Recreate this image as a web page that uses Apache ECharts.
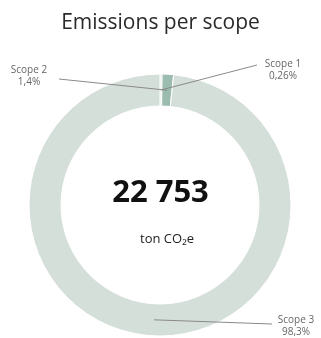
<!DOCTYPE html>
<html>
<head>
<meta charset="utf-8">
<script src="https://cdn.jsdelivr.net/npm/echarts@6/dist/echarts.min.js"></script>
<style>html,body{margin:0;padding:0;background:#fff}#c{width:321px;height:338px}</style>
</head>
<body>
<div id="c"></div>
<script>
const categories = ['Scope 1', 'Scope 2', 'Scope 3'];
const shares = [0.26, 1.4, 98.3];
const shareLabels = ['0,26%', '1,4%', '98,3%'];
const totalLabel = '22 753';
const unitLabel = 'ton CO₂e';
const titleText = 'Emissions per scope';

const CX = 160, CY = 205, R0 = 99, R1 = 131, RM = 115;
const sliceColors = ['#d4dfda', '#9bbcaf', '#d4dfda'];
const labelPlaces = [
  { x: 283, y: 70, end: [257, 65] },
  { x: 29, y: 76, end: [59, 79] },
  { x: 296, y: 326, end: [272, 324] }
];
const sum = shares.reduce((a, b) => a + b, 0);

const pieData = categories.map((c, i) => ({ name: c, value: shares[i], itemStyle: { color: sliceColors[i] } }));
const overlayData = categories.map((c, i) => ({ name: c, value: shares[i] }));

const chart = echarts.init(document.getElementById('c'), null, { renderer: 'canvas' });
chart.setOption({
  animation: false,
  title: {
    text: titleText, left: 'center', top: 8,
    textStyle: { fontFamily: 'Open Sans', fontWeight: 'normal', fontSize: 21, color: '#2a2a2a' }
  },
  graphic: [
    { type: 'text', left: 'center', top: 178, style: { text: totalLabel, font: 'bold 31px "Open Sans"', fill: '#111' } },
    { type: 'text', x: 167, y: 239, style: { text: unitLabel, font: '13px "Open Sans"', fill: '#222', align: 'center', verticalAlign: 'middle' } }
  ],
  series: [{
    type: 'pie',
    z: 2,
    center: [CX, CY],
    radius: [R0, R1],
    startAngle: 90,
    clockwise: true,
    label: { show: false },
    labelLine: { show: false },
    itemStyle: { borderColor: '#fff', borderWidth: 1 },
    data: pieData
  }, {
    type: 'pie',
    z: 4,
    silent: true,
    center: [CX, CY],
    radius: [R0, R1],
    startAngle: 90,
    clockwise: true,
    avoidLabelOverlap: false,
    itemStyle: { color: 'rgba(0,0,0,0)', borderWidth: 0 },
    label: {
      show: true,
      formatter: p => p.name + '\n' + shareLabels[p.dataIndex],
      fontFamily: 'Open Sans', fontSize: 10, lineHeight: 12, color: '#666', align: 'center'
    },
    labelLine: { show: true, lineStyle: { color: '#8a8a8a', width: 1 } },
    labelLayout: function (p) {
      const i = p.dataIndex;
      let before = 0;
      for (let k = 0; k < i; k++) before += shares[k];
      const th = (before + shares[i] / 2) / sum * Math.PI * 2;
      const sx = CX + RM * Math.sin(th), sy = CY - RM * Math.cos(th);
      const pl = labelPlaces[i];
      return {
        x: pl.x, y: pl.y, align: 'center', verticalAlign: 'middle',
        labelLinePoints: [[sx, sy], [(sx + pl.end[0]) / 2, (sy + pl.end[1]) / 2], pl.end]
      };
    },
    data: overlayData
  }]
});
</script>
</body>
</html>
